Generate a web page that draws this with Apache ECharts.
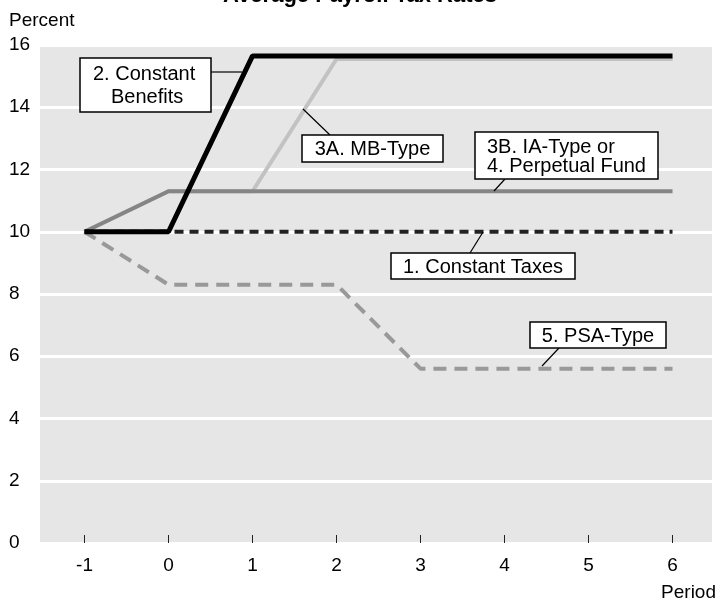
<!DOCTYPE html>
<html>
<head>
<meta charset="utf-8">
<script src="https://cdn.jsdelivr.net/npm/echarts@6/dist/echarts.min.js"></script>
<style>
html,body{margin:0;padding:0;background:#fff;}
#c{width:717px;height:601px;}
</style>
</head>
<body>
<div id="c"></div>
<script>
// Periods and tick labels
const periods = [-1, 0, 1, 2, 3, 4, 5, 6];
const yTicks = [0, 2, 4, 6, 8, 10, 12, 14, 16];

// Series (x = period, y = percent)
const constantTaxes = [[-1, 10], [6, 10]];
const constantBenefits = [[-1, 10], [0, 10], [1, 15.65], [6, 15.65]];
const mbType = [[-1, 10], [0, 11.3], [1, 11.3], [2, 15.55], [6, 15.55]];
const iaType = [[-1, 10], [0, 11.3], [6, 11.3]];
const psaType = [[-1, 10], [0, 8.3], [2, 8.3], [3, 5.6], [6, 5.6]];

const FONT = '"Liberation Sans", Arial, sans-serif';

const chart = echarts.init(document.getElementById('c'), null, {renderer: 'canvas'});

const graphics = [];
// lines: array of strings; lineX: optional array of left offsets (left-aligned text)
function box(x, y, w, h, lines, lh, lineX) {
  graphics.push({
    type: 'rect', z: 100,
    shape: {x: x, y: y, width: w, height: h},
    style: {fill: '#fff', stroke: '#000', lineWidth: 1.5}
  });
  const startY = y + h / 2 - (lines.length - 1) * lh / 2 + 1;
  lines.forEach((t, i) => {
    const left = lineX ? lineX[i] : null;
    graphics.push({
      type: 'text', z: 101,
      x: left !== null ? x + left : x + w / 2,
      y: startY + i * lh,
      style: {text: t, font: '20px ' + FONT, fill: '#000',
        align: left !== null ? 'left' : 'center', verticalAlign: 'middle'}
    });
  });
}
function leader(x1, y1, x2, y2) {
  graphics.push({type: 'line', z: 99, shape: {x1: x1, y1: y1, x2: x2, y2: y2},
    style: {stroke: '#000', lineWidth: 1.2}});
}

graphics.push({type: 'text', z: 101, x: 9, y: 21, style: {text: 'Percent', font: '19px ' + FONT, fill: '#000', verticalAlign: 'middle'}});
graphics.push({type: 'text', z: 101, x: 716, y: 593, style: {text: 'Period', font: '19px ' + FONT, fill: '#000', align: 'right', verticalAlign: 'middle'}});
leader(211, 72, 242, 72);
box(80, 58, 131, 54, ['2. Constant', 'Benefits'], 23, [13, 31]);
leader(330, 135, 303, 109);
box(302, 135, 141, 27, ['3A. MB-Type'], 19);
leader(505, 179, 494, 191);
box(475, 132, 183, 47, ['3B. IA-Type or', '4. Perpetual Fund'], 19, [12, 12]);
leader(470, 253, 483, 232);
box(391, 253, 184, 26, ['1. Constant Taxes'], 19);
leader(559, 348, 542, 366);
box(530, 322, 136, 26, ['5. PSA-Type'], 19);

const option = {
  animation: false,
  backgroundColor: '#fff',
  title: {
    text: 'Average Payroll Tax Rates',
    left: 355, top: -20, textAlign: 'center',
    textStyle: {fontFamily: FONT, fontWeight: 'bold', fontSize: 22, color: '#000'}
  },
  grid: {
    left: 40, right: 5, top: 45, bottom: 58,
    show: true, backgroundColor: '#e6e6e6', borderWidth: 0
  },
  xAxis: {
    type: 'value', min: -1.53, max: 6.47,
    axisLine: {show: false},
    splitLine: {show: false},
    axisTick: {show: true, inside: true, length: 8, customValues: periods,
      lineStyle: {color: '#222', width: 1}},
    axisLabel: {customValues: periods, margin: 13, fontFamily: FONT, fontSize: 19, color: '#000'}
  },
  yAxis: {
    type: 'value', min: 0, max: 16, interval: 2,
    axisLine: {show: false}, axisTick: {show: false},
    splitLine: {show: true, lineStyle: {color: '#fff', width: 3}},
    axisLabel: {align: 'left', margin: 31, fontFamily: FONT, fontSize: 19, color: '#000',
      customValues: yTicks}
  },
  series: [
    {type: 'line', data: mbType, symbol: 'none', z: 2,
      lineStyle: {color: '#c2c2c2', width: 4}},
    {type: 'line', data: psaType, symbol: 'none', z: 3,
      lineStyle: {color: '#999', width: 4, type: [13, 8]}},
    {type: 'line', data: iaType, symbol: 'none', z: 4,
      lineStyle: {color: '#858585', width: 4}},
    {type: 'line', data: constantTaxes, symbol: 'none', z: 5,
      lineStyle: {color: '#222', width: 4, type: [9, 6]}},
    {type: 'line', data: constantBenefits, symbol: 'none', z: 6,
      lineStyle: {color: '#000', width: 5}}
  ],
  graphic: graphics
};
chart.setOption(option);
</script>
</body>
</html>
